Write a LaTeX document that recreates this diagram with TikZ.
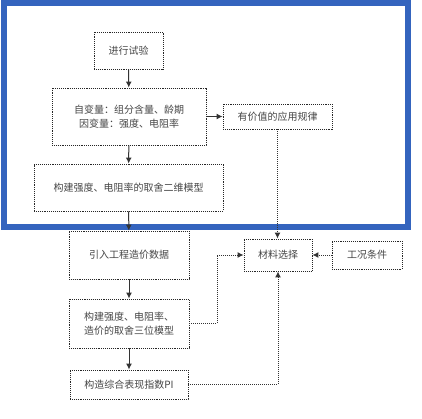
\documentclass[tikz,border=0pt]{standalone}
\usepackage{fontspec}
\setmainfont{Noto Sans CJK SC}
\usetikzlibrary{arrows.meta}
\definecolor{txt}{RGB}{70,70,70}
\definecolor{frameblue}{RGB}{52,100,190}
\begin{document}
\begin{tikzpicture}[x=1pt,y=1pt,yscale=-1,
  box/.style={draw=black!85,densely dotted,line width=0.9pt,inner sep=0pt,
    text=txt,font=\fontsize{10}{13.5}\selectfont,align=center},
  conn/.style={draw=black!80,line width=1pt,-{Latex[length=6pt,width=6pt]}},
  dconn/.style={conn,densely dotted}]
\useasboundingbox (0,0) rectangle (422,419);
\fill[white] (0,0) rectangle (422,419);
\draw[frameblue,line width=6pt] (4,3.5) rectangle (408,227);
\node[box,minimum width=69pt,minimum height=37pt] (exp) at (128.5,50.5) {进行试验};
\node[box,minimum width=154pt,minimum height=57pt] (var) at (129,116.5) {自变量：组分含量、龄期\\因变量：强度、电阻率};
\node[box,minimum width=109pt,minimum height=25pt] (law) at (277.5,116.5) {有价值的应用规律};
\node[box,minimum width=189pt,minimum height=47pt] (m2) at (128.5,187.5) {构建强度、电阻率的取舍二维模型};
\node[box,minimum width=120pt,minimum height=48pt] (cost) at (129,255) {引入工程造价数据};
\node[box,minimum width=68pt,minimum height=32pt] (mat) at (278,255) {材料选择};
\node[box,minimum width=70pt,minimum height=28pt] (cond) at (367,255) {工况条件};
\node[box,minimum width=120pt,minimum height=49pt] (m3) at (129,323.5) {构建强度、电阻率、\\造价的取舍三位模型};
\node[box,minimum width=118pt,minimum height=29pt] (pi) at (129,384.5) {构造综合表现指数PI};
\coordinate (j1) at (217,0);
\draw[conn] (exp) -- (var);
\draw[conn] (var) -- (law);
\draw[conn] (var) -- (m2);
\draw[conn] (m2) -- (cost);
\draw[conn] (cost) -- (m3);
\draw[conn] (m3) -- (pi);
\draw[dconn] (law.south) -- (law.south |- mat.north);
\draw[dconn] (cond) -- (mat);
\draw[dconn] (m3.east) -- (m3.east -| j1) |- (mat.west);
\draw[dconn] (pi.east) -| (mat.south);
\end{tikzpicture}
\end{document}
